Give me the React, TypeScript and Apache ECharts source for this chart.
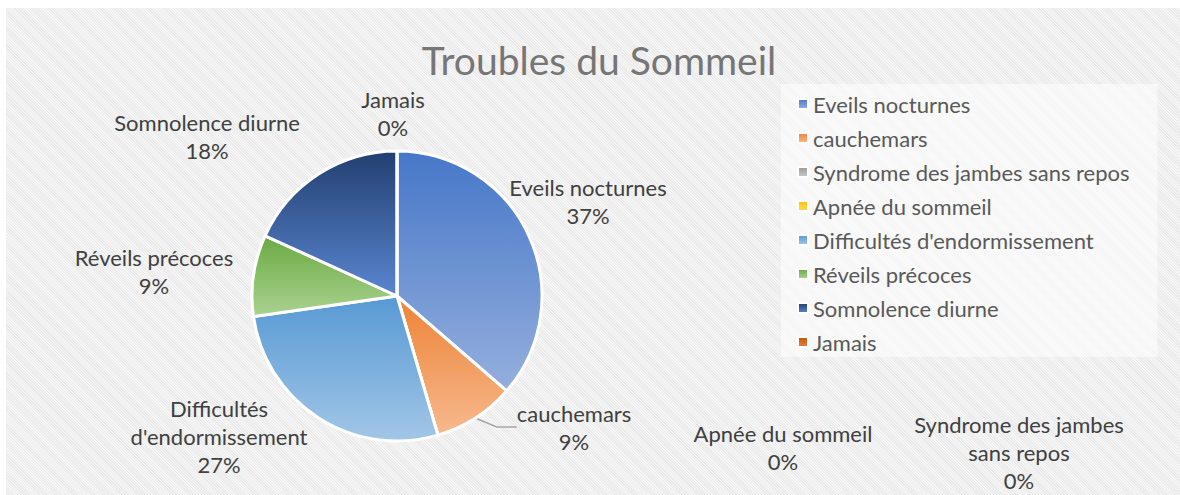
import React, { useEffect, useRef } from "react";
import * as echarts from "echarts";

const categories = [
  "Eveils nocturnes",
  "cauchemars",
  "Syndrome des jambes sans repos",
  "Apnée du sommeil",
  "Difficultés d'endormissement",
  "Réveils précoces",
  "Somnolence diurne",
  "Jamais",
];
const values = [4, 1, 0, 0, 3, 1, 2, 0];
const labelNames = [
  "Eveils nocturnes",
  "cauchemars",
  "Syndrome des jambes\nsans repos",
  "Apnée du sommeil",
  "Difficultés\nd'endormissement",
  "Réveils précoces",
  "Somnolence diurne",
  "Jamais",
];
const gradients: [string, string][] = [
  ["#4677c8", "#95afdd"],
  ["#ee8236", "#f6b98d"],
  ["#9a9a9a", "#c9c9c9"],
  ["#ffc000", "#ffd966"],
  ["#5799d4", "#a2c6e7"],
  ["#6aaa42", "#aad291"],
  ["#223f70", "#5a86d0"],
  ["#c0530c", "#e2853f"],
];
// label centres (px) for each slice, as placed in the original layout
const labelPos: [number, number][] = [
  [588, 201],
  [574, 427],
  [1019, 452],
  [783, 447],
  [219, 436],
  [154, 271],
  [207, 136],
  [393, 113],
];

const FONT = "Lato, 'Open Sans', sans-serif";

export default function App() {
  const ref = useRef<HTMLDivElement>(null);
  useEffect(() => {
    if (!ref.current) return;
    const chart = echarts.init(ref.current, null, { renderer: "svg" });
    const data = categories.map((name, i) => ({
      name,
      value: values[i],
      itemStyle: {
        color: {
          type: "linear",
          x: 0,
          y: 0,
          x2: 0,
          y2: 1,
          colorStops: [
            { offset: 0, color: gradients[i][0] },
            { offset: 1, color: gradients[i][1] },
          ],
        },
      },
      labelLine: { show: i === 1 },
    }));
    chart.setOption({
      animation: false,
      backgroundColor: "transparent",
      title: {
        text: "Troubles du Sommeil",
        left: 594,
        top: 35,
        textAlign: "center",
        textStyle: { fontFamily: FONT, fontSize: 39, fontWeight: "normal", color: "#767676" },
      },
      legend: {
        orient: "vertical",
        left: 781,
        top: 84,
        padding: [9, 28, 4, 16],
        backgroundColor: "rgba(255,255,255,0.5)",
        itemWidth: 10,
        itemHeight: 10,
        itemGap: 12,
        icon: "rect",
        data: categories,
        textStyle: { fontFamily: FONT, fontSize: 22, color: "#595959", lineHeight: 22 },
      },
      series: [
        {
          type: "pie",
          center: [397, 296],
          radius: 145,
          startAngle: 90,
          clockwise: true,
          avoidLabelOverlap: false,
          stillShowZeroSum: true,
          percentPrecision: 0,
          data,
          itemStyle: { borderColor: "#ffffff", borderWidth: 3 },
          label: {
            show: true,
            position: "outside",
            formatter: (p: any) => `${labelNames[p.dataIndex]}\n${p.percent}%`,
            fontFamily: FONT,
            fontSize: 22,
            lineHeight: 28,
            color: "#404040",
            align: "center",
          },
          labelLine: {
            show: false,
            length: 10,
            length2: 20,
            lineStyle: { color: "#a6a6a6", width: 1.5 },
          },
          emphasis: { disabled: true },
          labelLayout: (params: any) => {
            const pos = labelPos[params.dataIndex];
            return { x: pos[0], y: pos[1], align: "center", verticalAlign: "middle" };
          },
        },
      ],
    });
    return () => chart.dispose();
  }, []);
  return (
    <div style={{ position: "absolute", left: 0, top: 0, width: 1180, height: 495, background: "#fff" }}>
      <div
        style={{
          position: "absolute",
          left: 6,
          top: 8,
          right: 0,
          bottom: 0,
          backgroundColor: "#f1f1f1",
          backgroundImage:
            "repeating-linear-gradient(45deg, #eaeaea 0px, #eaeaea 1px, #f6f6f6 1px, #f6f6f6 2px)",
        }}
      />
      <div ref={ref} style={{ position: "absolute", left: 0, top: 0, width: 1180, height: 495 }} />
    </div>
  );
}
